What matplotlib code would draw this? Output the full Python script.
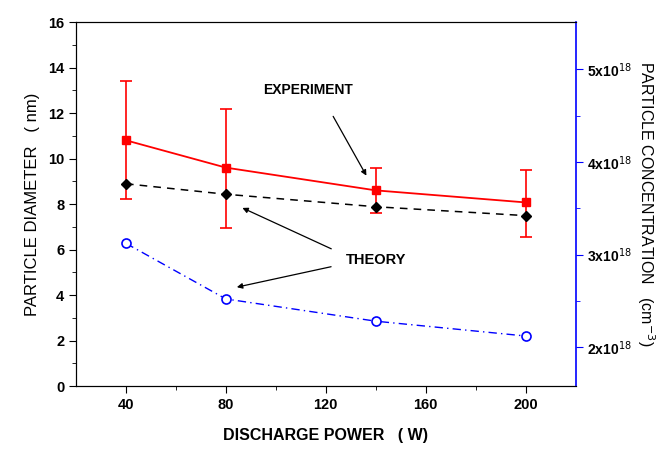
import matplotlib
matplotlib.use("Agg")
import matplotlib.pyplot as plt
from matplotlib.ticker import MultipleLocator, FixedLocator

plt.rcParams['font.family'] = ['Liberation Sans', 'DejaVu Sans']

# data
power = [40, 80, 140, 200]
exp_diam = [10.8, 9.6, 8.6, 8.07]
exp_err_hi = [13.41, 12.18, 9.6, 9.49]
exp_err_lo = [8.2, 6.96, 7.6, 6.54]
theory_diam = [8.89, 8.43, 7.88, 7.49]
theory_conc = [3.12e18, 2.52e18, 2.28e18, 2.12e18]

conc_ticks = [2e18, 3e18, 4e18, 5e18]
conc_labels = [r'2x10$^{18}$', r'3x10$^{18}$', r'4x10$^{18}$', r'5x10$^{18}$']

yerr = [[d - lo for d, lo in zip(exp_diam, exp_err_lo)],
        [hi - d for d, hi in zip(exp_diam, exp_err_hi)]]

fig = plt.figure(figsize=(6.57, 4.55), dpi=100)
ax = fig.add_axes([0.1157, 0.1516, 0.7604, 0.80])

ax.errorbar(power, exp_diam, yerr=yerr, color='red', marker='s', ms=6,
            lw=1.3, capsize=4, elinewidth=1.2, capthick=1.2, zorder=3)
ax.plot(power, theory_diam, color='black', ls=(0, (5, 4)), lw=1.1,
        marker='D', ms=5, zorder=4)

ax.set_xlim(20, 220)
ax.set_ylim(0, 16)
ax.set_xticks([40, 80, 120, 160, 200])
ax.xaxis.set_minor_locator(FixedLocator([60, 100, 140, 180]))
ax.yaxis.set_major_locator(MultipleLocator(2))
ax.yaxis.set_minor_locator(MultipleLocator(1))
ax.tick_params(which='major', direction='out', length=5, labelsize=10.5)
ax.tick_params(which='minor', direction='out', length=3)
for lab in ax.get_xticklabels() + ax.get_yticklabels():
    lab.set_fontweight('bold')
ax.spines['right'].set_visible(False)

ax.set_xlabel('DISCHARGE POWER   ( W)', fontsize=11.5, fontweight='bold', labelpad=12)
ax.set_ylabel('PARTICLE DIAMETER   ( nm)', fontsize=12, labelpad=6)

ax2 = ax.twinx()
ax2.plot(power, theory_conc, color='blue', ls=(0, (6, 3, 1, 3)), lw=1.0,
         marker='o', ms=6.5, mfc='white', mec='blue', mew=1.2)
ax2.set_ylim(1.58e18, 5.51e18)
ax2.yaxis.set_major_locator(FixedLocator(conc_ticks))
ax2.yaxis.set_minor_locator(FixedLocator([2.5e18, 3.5e18, 4.5e18]))
ax2.set_yticklabels(conc_labels)
ax2.spines['right'].set_color('blue')
ax2.spines['right'].set_linewidth(1.2)
ax2.tick_params(axis='y', which='both', colors='blue', labelcolor='black', direction='out')
ax2.tick_params(axis='y', which='major', length=5, labelsize=10)
ax2.tick_params(axis='y', which='minor', length=3)
for lab in ax2.get_yticklabels():
    lab.set_fontweight('bold')
ax2.set_ylabel(r'PARTICLE CONCENTRATION   (cm$^{-3}$)', fontsize=11.5,
               rotation=270, labelpad=18)

ax.annotate('EXPERIMENT', xy=(136.8, 9.14), xytext=(113, 13.0),
            fontsize=10, fontweight='bold', ha='center', va='center')
ax.annotate('', xy=(136.8, 9.14), xytext=(122.4, 11.96),
            arrowprops=dict(arrowstyle='-|>', color='black', lw=0.9,
                            mutation_scale=8))
ax.text(140.3, 5.54, 'THEORY', fontsize=10.5, fontweight='bold',
        ha='center', va='center')
ax.annotate('', xy=(85.6, 7.88), xytext=(123.2, 5.98),
            arrowprops=dict(arrowstyle='-|>', color='black', lw=0.9,
                            mutation_scale=8))
ax.annotate('', xy=(83.3, 4.32), xytext=(123.2, 5.27),
            arrowprops=dict(arrowstyle='-|>', color='black', lw=0.9,
                            mutation_scale=8))

fig.savefig('out.png', dpi=100)
